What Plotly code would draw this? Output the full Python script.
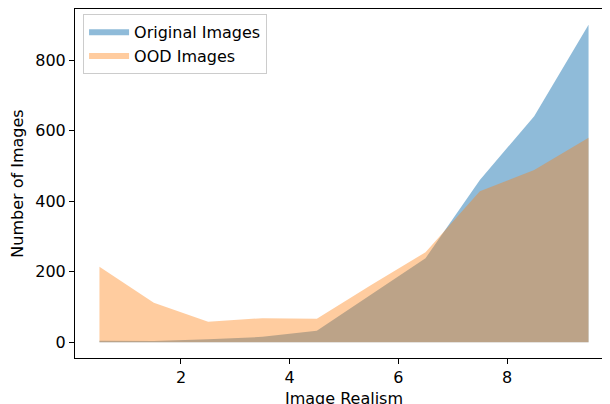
import plotly.graph_objects as go

realism = [0.5, 1.5, 2.5, 3.5, 4.5, 5.5, 6.5, 7.5, 8.5, 9.5]
original_counts = [4, 3, 8, 15, 32, 135, 238, 460, 641, 900]
ood_counts = [214, 112, 58, 68, 66, 162, 255, 428, 488, 580]
series_names = ["Original Images", "OOD Images"]
y_ticks = [0, 200, 400, 600, 800]
x_ticks = [2, 4, 6, 8]

FONT = "DejaVu Sans"
FS = 16

fig = go.Figure()
fig.add_trace(go.Scatter(x=realism, y=original_counts, name=series_names[0],
                         mode="none", fill="tozeroy",
                         fillcolor="rgba(31,119,180,0.5)"))
fig.add_trace(go.Scatter(x=realism, y=ood_counts, name=series_names[1],
                         mode="none", fill="tozeroy",
                         fillcolor="rgba(255,127,14,0.4)"))

fig.update_layout(
    width=610, height=404,
    margin=dict(l=67, r=5, t=1, b=54),
    plot_bgcolor="white", paper_bgcolor="white",
    font=dict(family=FONT, size=FS, color="black"),
    showlegend=True,
    legend=dict(x=0.015, y=0.985, xanchor="left", yanchor="top",
                bordercolor="#cccccc", borderwidth=1,
                bgcolor="rgba(255,255,255,0.8)",
                font=dict(family=FONT, size=FS),
                tracegroupgap=0, itemwidth=40),
)
fig.update_xaxes(range=[0.05, 9.95], tickvals=x_ticks,
                 showgrid=False, zeroline=False,
                 showline=True, linecolor="black", linewidth=1, mirror=True,
                 ticks="outside", ticklen=5, tickcolor="black",
                 title=dict(text="Image Realism", standoff=6,
                            font=dict(family=FONT, size=FS)))
fig.update_yaxes(range=[-45, 945], tickvals=y_ticks,
                 showgrid=False, zeroline=False,
                 showline=True, linecolor="black", linewidth=1,
                 ticks="outside", ticklen=5, tickcolor="black",
                 title=dict(text="Number of Images", standoff=8,
                            font=dict(family=FONT, size=FS)))

fig.write_html("out.html")
